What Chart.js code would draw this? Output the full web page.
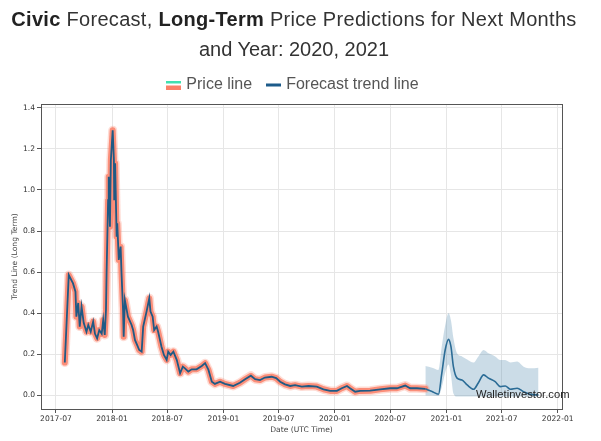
<!DOCTYPE html>
<html><head><meta charset="utf-8">
<script src="https://cdn.jsdelivr.net/npm/chart.js@4.4.1/dist/chart.umd.min.js"></script>
<style>
html,body{margin:0;padding:0;background:#fff;}
#wrap{position:relative;width:601px;height:441px;overflow:hidden;}
#title{position:absolute;left:0;top:4px;width:588px;text-align:center;font-family:"Liberation Sans",Arial,sans-serif;font-size:20px;line-height:30px;color:#333;}
#title b{color:#222;}
#l1{letter-spacing:0.3px;}
canvas{position:absolute;left:0;top:0;}
</style></head><body>
<div id="wrap"><canvas id="c" width="601" height="441"></canvas>
<div id="title"><span id="l1"><b>Civic</b> Forecast, <b>Long-Term</b> Price Predictions for Next Months</span><br>and Year: 2020, 2021</div></div>
<script>
const priceDates = ['2017-07-30','2017-08-12','2017-08-26','2017-09-03','2017-09-06','2017-09-12','2017-09-17','2017-09-23','2017-09-30','2017-10-09',
'2017-10-15','2017-10-23','2017-10-31','2017-11-06','2017-11-13','2017-11-20','2017-11-28','2017-12-03','2017-12-08','2017-12-12',
'2017-12-14','2017-12-19','2017-12-21','2017-12-25','2017-12-28','2018-01-03','2018-01-07','2018-01-08','2018-01-11','2018-01-16',
'2018-01-18','2018-01-23','2018-01-29','2018-02-01','2018-02-06','2018-02-08','2018-02-12','2018-02-17','2018-02-22','2018-03-06',
'2018-03-11','2018-03-17','2018-03-24','2018-03-31','2018-04-08','2018-04-13','2018-04-24','2018-05-03','2018-05-07','2018-05-14',
'2018-05-19','2018-05-27','2018-06-01','2018-06-12','2018-06-20','2018-06-29','2018-07-04','2018-07-12','2018-07-21','2018-08-01',
'2018-08-12','2018-08-21','2018-08-28','2018-09-08','2018-09-19','2018-10-05','2018-10-22','2018-11-02','2018-11-13','2018-11-24',
'2018-12-04','2018-12-21','2019-01-06','2019-02-02','2019-02-24','2019-03-13','2019-04-01','2019-04-15','2019-05-01','2019-05-17',
'2019-06-08','2019-06-23','2019-07-06','2019-07-22','2019-08-08','2019-08-24','2019-09-15','2019-10-07','2019-11-03','2019-11-25',
'2019-12-17','2020-01-08','2020-01-24','2020-02-10','2020-02-20','2020-03-08','2020-03-24','2020-04-26','2020-05-29','2020-07-01',
'2020-07-23','2020-08-19','2020-09-04','2020-09-26','2020-10-24'];
const priceValues = [0.16,0.586,0.545,0.505,0.383,0.45,0.335,0.432,0.353,0.31,
0.343,0.31,0.359,0.30,0.278,0.318,0.30,0.367,0.294,0.416,
0.594,0.95,1.064,0.821,1.145,1.29,1.145,0.95,1.13,0.772,
0.837,0.659,0.724,0.594,0.416,0.286,0.464,0.424,0.383,0.343,
0.318,0.27,0.246,0.221,0.213,0.335,0.408,0.473,0.408,0.383,
0.318,0.335,0.31,0.237,0.197,0.173,0.213,0.197,0.213,0.173,
0.108,0.14,0.132,0.116,0.127,0.127,0.143,0.157,0.124,0.067,
0.056,0.067,0.056,0.046,0.062,0.079,0.096,0.079,0.075,0.087,
0.091,0.084,0.067,0.054,0.046,0.05,0.043,0.046,0.043,0.03,
0.022,0.022,0.035,0.046,0.035,0.018,0.022,0.023,0.03,0.035,
0.035,0.048,0.035,0.035,0.032];
const forecastDates = ['2020-10-24','2020-11-15','2020-12-06','2020-12-17','2020-12-28','2021-01-08','2021-01-16','2021-01-24','2021-02-05','2021-02-21',
'2021-03-10','2021-03-31','2021-04-16','2021-05-03','2021-05-19','2021-06-10','2021-06-27','2021-07-13','2021-07-30','2021-08-21',
'2021-09-11','2021-10-03','2021-10-30'];
const forecastValues = [0.032,0.019,0.006,0.108,0.221,0.273,0.237,0.14,0.084,0.075,
0.051,0.03,0.062,0.1,0.084,0.067,0.043,0.046,0.03,0.035,
0.018,0.006,0.002];
const bandUpper = [0.143,0.135,0.124,0.24,0.34,0.40,0.365,0.28,0.205,0.19,
0.175,0.16,0.19,0.221,0.205,0.19,0.172,0.172,0.16,0.165,
0.14,0.132,0.135];
const bandLower = [0.0,0.0,-0.003,0.04,0.11,0.15,0.10,0.01,-0.005,-0.005,
-0.005,-0.005,-0.005,-0.005,-0.005,-0.005,-0.005,-0.005,-0.005,-0.005,
-0.005,-0.005,-0.005];
const xTickLabels = ['2017-07','2018-01','2018-07','2019-01','2019-07','2020-01','2020-07','2021-01','2021-07','2022-01'];
const yTickValues = [0.0,0.2,0.4,0.6,0.8,1.0,1.2,1.4];
const xMinDate = '2017-05-13', xMaxDate = '2022-01-15';
const yMin = -0.066, yMax = 1.418;
const watermarkText = 'Walletinvestor.com';

const day = s => Date.UTC(+s.slice(0,4), +s.slice(5,7)-1, +s.slice(8,10) || 1) / 86400000;
const xy = (ds, vs) => ds.map((d,i) => ({x: day(d), y: vs[i]}));

function icon(stripes){
  const c = document.createElement('canvas'); c.width = 15; c.height = 9;
  const g = c.getContext('2d');
  stripes.forEach(s => { g.fillStyle = s[0]; g.fillRect(0, s[1], 15, s[2]); });
  return c;
}
const icons = {0: icon([['#40e0b0',0,3],['#fa8068',5,4]]), 3: icon([['#1d5b8a',3,3]])};

const watermark = {
  id: 'wm',
  afterDatasetsDraw(chart){
    const ctx = chart.ctx, a = chart.chartArea;
    ctx.save();
    ctx.font = '11.2px "Liberation Sans", Arial, sans-serif';
    ctx.fillStyle = '#222'; ctx.textBaseline = 'middle'; ctx.textAlign = 'left';
    ctx.fillText(watermarkText, a.right - 86, a.bottom - 14);
    ctx.restore();
  }
};

const tickFont = {family: '"DejaVu Sans", sans-serif', size: 7.6};
new Chart(document.getElementById('c'), {
  type: 'line',
  data: { datasets: [
    {label: 'Price line', data: xy(priceDates, priceValues), borderColor: 'rgba(250,128,104,0.85)', borderWidth: 6, pointRadius: 0, tension: 0, order: 3, borderJoinStyle: 'round', borderCapStyle: 'round'},
    {label: 'halo', data: xy(priceDates, priceValues), borderColor: 'rgba(250,128,104,0.28)', borderWidth: 9, pointRadius: 0, tension: 0, order: 4, borderJoinStyle: 'round', borderCapStyle: 'round'},
    {label: 'core', data: xy(priceDates, priceValues), borderColor: '#1f5a85', borderWidth: 1.8, pointRadius: 0, tension: 0, order: 1},
    {label: 'Forecast trend line', data: xy(forecastDates, forecastValues), borderColor: '#2b6c96', borderWidth: 1.6, pointRadius: 0, cubicInterpolationMode: 'monotone', order: 2},
    {label: 'upper', data: xy(forecastDates, bandUpper), borderWidth: 0, borderColor: 'rgba(0,0,0,0)', backgroundColor: 'rgba(70,130,170,0.28)', fill: '+1', pointRadius: 0, cubicInterpolationMode: 'monotone', order: 5},
    {label: 'lower', data: xy(forecastDates, bandLower), borderWidth: 0, borderColor: 'rgba(0,0,0,0)', fill: false, pointRadius: 0, cubicInterpolationMode: 'monotone', order: 6}
  ]},
  options: {
    responsive: false, animation: false, devicePixelRatio: 1,
    layout: {padding: {top: 60, left: 0, right: 13, bottom: 0}},
    plugins: {
      tooltip: {enabled: false},
      legend: {
        display: true, position: 'top',
        labels: {
          usePointStyle: true, pointStyleWidth: 9, boxHeight: 16, padding: 17, color: '#555',
          font: {family: '"Liberation Sans", Arial, sans-serif', size: 16},
          sort: (a, b) => a.datasetIndex - b.datasetIndex,
          generateLabels(chart){
            const items = Chart.defaults.plugins.legend.labels.generateLabels(chart);
            return items.filter(it => it.datasetIndex === 0 || it.datasetIndex === 3)
                        .map(it => Object.assign(it, {pointStyle: icons[it.datasetIndex], lineWidth: 0, strokeStyle: 'rgba(0,0,0,0)'}));
          }
        }
      }
    },
    scales: {
      x: {
        type: 'linear', position: 'bottom', min: day(xMinDate), max: day(xMaxDate),
        afterBuildTicks: s => { s.ticks = xTickLabels.map(l => ({value: day(l + '-01')})); },
        afterFit: s => { s.height = 32; },
        ticks: {callback: (v, i) => xTickLabels[i], autoSkip: false, maxRotation: 0, font: tickFont, color: '#333', padding: 1},
        grid: {color: '#e6e6e6', tickColor: '#555', tickLength: 4},
        border: {display: true, color: '#555'},
        title: {display: true, text: 'Date (UTC Time)', font: tickFont, color: '#444', padding: {top: 0, bottom: 6.4}}
      },
      y: {
        type: 'linear', position: 'left', min: yMin, max: yMax,
        afterBuildTicks: s => { s.ticks = yTickValues.map(v => ({value: v})); },
        afterFit: s => { s.width = 41; },
        ticks: {callback: v => v.toFixed(1), font: tickFont, color: '#333', padding: 2},
        grid: {color: '#e6e6e6', tickColor: '#555', tickLength: 4},
        border: {display: true, color: '#555'},
        title: {display: true, text: 'Trend Line (Long Term)', font: tickFont, color: '#444', padding: {top: 10.5, bottom: 0}}
      },
      xTop: {type: 'linear', position: 'top', display: true, grid: {display: false, drawTicks: false}, ticks: {display: false}, border: {display: true, color: '#555'}, afterFit: s => { s.height = 1; }},
      yRight: {type: 'linear', position: 'right', display: true, grid: {display: false, drawTicks: false}, ticks: {display: false}, border: {display: true, color: '#555'}, afterFit: s => { s.width = 26; }}
    }
  },
  plugins: [watermark]
});
</script>
</body></html>
